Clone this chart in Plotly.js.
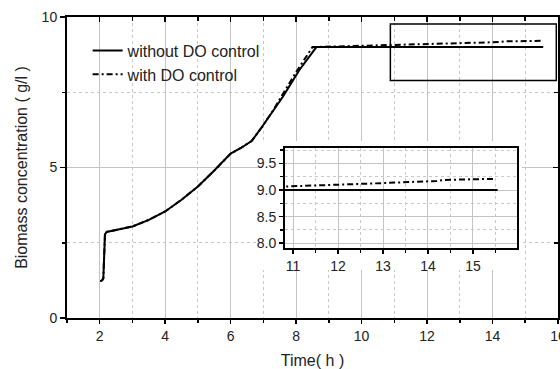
<!DOCTYPE html>
<html>
<head>
<meta charset="utf-8">
<script src="https://cdn.plot.ly/plotly-3.0.1.min.js"></script>
<style>html,body{margin:0;padding:0;background:#fff;}#chart{width:560px;height:369px;}</style>
</head>
<body>
<div id="chart"></div>
<script>
// Time (h) and biomass concentration (g/l)
const timeWithout = [2.02, 2.08, 2.11, 2.13, 2.16, 2.21, 2.5, 3.0, 3.5, 4.0, 4.5, 5.0, 5.5, 6.0, 6.3, 6.64, 6.94, 7.3, 7.6, 8.1, 8.62, 10, 12, 14, 15.55];
const bioWithout  = [1.22, 1.26, 1.32, 2.0, 2.78, 2.86, 2.92, 3.04, 3.26, 3.54, 3.93, 4.37, 4.9, 5.46, 5.64, 5.88, 6.32, 6.89, 7.36, 8.24, 9.0, 9.0, 9.0, 9.0, 9.0];

const timeWith = [2.02, 2.08, 2.11, 2.13, 2.16, 2.21, 2.5, 3.0, 3.5, 4.0, 4.5, 5.0, 5.5, 6.0, 6.3, 6.64, 6.94, 7.3, 7.6, 8.0, 8.5, 8.9, 10, 11, 12, 13, 14, 14.2, 14.35, 15, 15.5];
const bioWith  = [1.22, 1.26, 1.32, 2.0, 2.78, 2.86, 2.92, 3.04, 3.26, 3.54, 3.93, 4.37, 4.9, 5.46, 5.64, 5.88, 6.32, 6.9, 7.45, 8.17, 9.0, 9.01, 9.04, 9.07, 9.1, 9.13, 9.16, 9.17, 9.19, 9.2, 9.21];

const seriesNames = ["without DO control", "with DO control"];
const xTitle = "Time( h )";
const yTitle = "Biomass concentration ( g/l )";
// zoom window (main plot rectangle and inset ranges)
const zoomX = [10.82, 15.98];
const zoomY = [7.91, 9.79];

const FONT = "Liberation Sans, Arial, sans-serif";
const dashDot = "6px,3px,2px,3px";
const gridMajor = "#c4c4c4";
const gridMinor = "#c8c8c8";

const traces = [
  {x: timeWithout, y: bioWithout, xaxis: "x", yaxis: "y", mode: "lines", name: seriesNames[0],
   line: {color: "#000", width: 2}},
  {x: timeWith, y: bioWith, xaxis: "x", yaxis: "y", mode: "lines", name: seriesNames[1],
   line: {color: "#000", width: 2, dash: dashDot}},
  // white cover subplot (hides main grid behind the inset)
  {x: [null], y: [null], xaxis: "x2", yaxis: "y2", mode: "lines", showlegend: false, hoverinfo: "skip"},
  // inset
  {x: timeWithout, y: bioWithout, xaxis: "x3", yaxis: "y3", mode: "lines", showlegend: false,
   line: {color: "#000", width: 2}},
  {x: timeWith, y: bioWith, xaxis: "x3", yaxis: "y3", mode: "lines", showlegend: false,
   line: {color: "#000", width: 2, dash: dashDot}},
  // mirror axes carrying inward ticks on top/right
  {x: [null], y: [null], xaxis: "x4", yaxis: "y4", mode: "lines", showlegend: false, hoverinfo: "skip"}
];

const tickFont = {family: FONT, size: 14, color: "#222"};

const layout = {
  width: 560, height: 369,
  margin: {l: 67, r: 2, t: 17, b: 51},
  paper_bgcolor: "#fff", plot_bgcolor: "#fff",
  font: {family: FONT, color: "#222"},
  showlegend: true,
  legend: {x: 0.042, y: 0.945, xanchor: "left", yanchor: "top", bgcolor: "rgba(0,0,0,0)",
           font: {family: FONT, size: 16, color: "#222"}, tracegroupgap: 0},
  xaxis: {domain: [0, 1], range: [1, 16.002], tick0: 0, dtick: 2, ticks: "outside", ticklen: 4, tickwidth: 1.5,
          tickcolor: "#000", showline: true, linecolor: "#000", linewidth: 2, zeroline: false,
          showgrid: true, gridcolor: gridMajor, gridwidth: 1, tickfont: tickFont, ticklabeloverflow: "allow",
          minor: {dtick: 1, tick0: 0, ticks: "outside", ticklen: 3, tickcolor: "#000", showgrid: true,
                  gridcolor: gridMinor, griddash: "dot", gridwidth: 1},
          title: {text: xTitle, font: {family: FONT, size: 16, color: "#222"}, standoff: 20}},
  yaxis: {domain: [0, 1], range: [0, 10], tick0: 0, dtick: 5, ticks: "outside", ticklen: 5, tickwidth: 1.5,
          tickcolor: "#000", showline: true, linecolor: "#000", linewidth: 2, zeroline: false,
          showgrid: true, gridcolor: gridMajor, gridwidth: 1, tickfont: tickFont,
          minor: {dtick: 2.5, tick0: 0, ticks: "outside", ticklen: 3, tickcolor: "#000", showgrid: true,
                  gridcolor: gridMinor, griddash: "dot", gridwidth: 1},
          title: {text: yTitle, font: {family: FONT, size: 16, color: "#222"}, standoff: 10}},
  xaxis2: {domain: [0.389, 0.9267], range: [0, 1], visible: false, showgrid: false, anchor: "y2"},
  yaxis2: {domain: [0.1595, 0.588], range: [0, 1], visible: false, showgrid: false, anchor: "x2"},
  xaxis3: {domain: [0.444, 0.9165], range: zoomX, anchor: "y3", tick0: 0, dtick: 1, ticks: "outside",
           ticklen: 4, tickwidth: 1.5, tickcolor: "#000", showline: true, mirror: true, linecolor: "#000",
           linewidth: 2, zeroline: false, showgrid: true, gridcolor: gridMajor, gridwidth: 1, tickfont: tickFont,
           minor: {dtick: 0.5, tick0: 0, ticks: "outside", ticklen: 3, tickcolor: "#000", showgrid: true,
                   gridcolor: gridMinor, griddash: "dot", gridwidth: 1}},
  yaxis3: {domain: [0.2326, 0.5648], range: zoomY, anchor: "x3", tick0: 0, dtick: 0.5, tickformat: ".1f",
           ticks: "outside", ticklen: 4, tickwidth: 1.5, tickcolor: "#000", showline: true, mirror: true,
           linecolor: "#000", linewidth: 2, zeroline: false, showgrid: true, gridcolor: gridMajor, gridwidth: 1,
           tickfont: tickFont,
           minor: {dtick: 0.25, tick0: 0, ticks: "outside", ticklen: 3, tickcolor: "#000", showgrid: true,
                   gridcolor: gridMinor, griddash: "dot", gridwidth: 1}},
  xaxis4: {overlaying: "x", side: "top", anchor: "y4", range: [1, 16.002], tick0: 0, dtick: 2, ticks: "inside",
           ticklen: 5, tickwidth: 1.5, tickcolor: "#000", showticklabels: false, showgrid: false,
           zeroline: false, showline: true, linecolor: "#000", linewidth: 2,
           minor: {dtick: 1, tick0: 0, ticks: "inside", ticklen: 4, tickcolor: "#000", showgrid: false}},
  yaxis4: {overlaying: "y", side: "right", anchor: "x4", range: [0, 10], tick0: 0, dtick: 5, ticks: "inside",
           ticklen: 5, tickwidth: 1.5, tickcolor: "#000", showticklabels: false, showgrid: false,
           zeroline: false, showline: true, linecolor: "#000", linewidth: 2,
           minor: {dtick: 2.5, tick0: 0, ticks: "inside", ticklen: 4, tickcolor: "#000", showgrid: false}},
  shapes: [
    {type: "rect", xref: "x", yref: "y", x0: zoomX[0] + 0.06, x1: 15.95, y0: zoomY[0] - 0.02, y1: zoomY[1] - 0.02,
     line: {color: "#000", width: 1.5}, fillcolor: "rgba(0,0,0,0)", layer: "above"}
  ]
};

Plotly.newPlot("chart", traces, layout, {staticPlot: true, displayModeBar: false});
</script>
</body>
</html>
